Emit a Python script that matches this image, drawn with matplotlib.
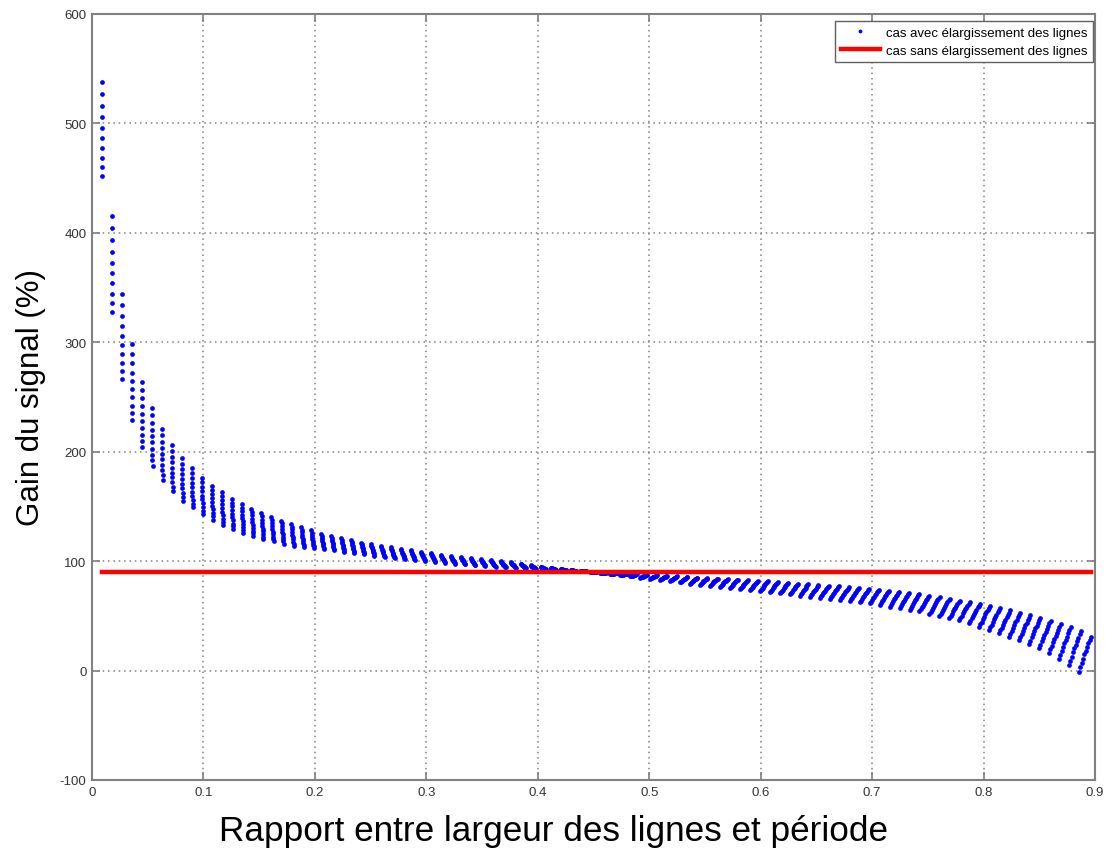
import numpy as np
import matplotlib
matplotlib.use("Agg")
import matplotlib.pyplot as plt

plt.rcParams['font.family'] = ['Liberation Sans', 'DejaVu Sans']
plt.rcParams['axes.unicode_minus'] = False

# one column of points per ratio value (step 0.009)
col_ratio = np.round(np.arange(1, 100) * 0.009, 3)

# gain for the left-most and right-most point of each column
gain_left_end = [
    538, 415, 344, 298, 264, 240, 221, 206, 194, 185,
    176, 169, 163, 157, 152, 148, 144, 140, 137, 134,
    131, 128, 125, 123, 121, 119, 117, 115.5, 114, 112.5,
    111, 110, 108.5, 107.5, 106, 105, 104, 103, 102, 101,
    100, 99, 97.5, 96, 95, 94, 93, 92, 91.2, 90.4,
    89.2, 88, 87, 86, 85, 84, 83, 82, 80.5, 79.5,
    78.5, 77.5, 76.5, 75.5, 74.5, 73.5, 72.5, 71.5, 70.5, 69.5,
    68.5, 67.5, 66.5, 65.5, 64.5, 63.5, 62.5, 61.5, 60, 58.5,
    57, 55.5, 54, 52, 50, 48, 46, 43.5, 40, 37,
    34, 31, 28, 24.5, 20.5, 16, 11, 5, -1,
]
gain_right_end = [
    452, 328, 266, 229, 204, 187, 174, 164, 155, 149,
    143, 138, 133, 129, 126, 123, 120, 118, 116, 114,
    113, 112, 111, 110, 108.5, 107.5, 106.5, 105, 104, 103,
    102, 101, 100, 99, 98.5, 97.5, 97, 96, 95.5, 95,
    94.5, 94, 93.5, 93, 92.5, 92, 91.5, 91, 90.6, 90,
    89.6, 89, 88.5, 88, 87.5, 87, 86.5, 86, 85.5, 85,
    84.5, 84, 83.5, 83, 82.5, 82, 81.5, 81, 80, 79.5,
    79, 78, 77.5, 77, 76, 75.5, 74.5, 74, 73, 72,
    71, 70, 68.5, 67, 65.5, 64, 62.5, 61, 59, 57,
    55, 53, 50.5, 48, 45.5, 42.5, 39.5, 36, 31,
]

# position of the 10 points inside a column (fraction of the gain span)
step_frac = [0, 0.125, 0.252, 0.373, 0.49, 0.596, 0.70, 0.81, 0.906, 1.0]
# relative shift of the ratio for the 10 points
ratio_shift = [-0.006, -0.0047, -0.0033, -0.002, -0.0007, 0.0007, 0.002, 0.0033, 0.0047, 0.006]

gain_ref = 90

x_pts, y_pts = [], []
for r, g0, g1 in zip(col_ratio, gain_left_end, gain_right_end):
    for f, s in zip(step_frac, ratio_shift):
        x_pts.append(r * (1 + s))
        y_pts.append(g0 + (g1 - g0) * f)
x_pts = np.array(x_pts)
y_pts = np.array(y_pts)

fig = plt.figure(figsize=(11.12, 8.54), dpi=100)
ax = fig.add_axes([0.0827, 0.0855, 0.9020, 0.8970])

ax.plot(x_pts, y_pts, 'o', color='#0000ff', ms=3.4, mew=0,
        label='cas avec élargissement des lignes')
ax.plot([x_pts.min(), x_pts.max()], [gain_ref, gain_ref], '-', color='#ff0000', lw=3.2,
        label='cas sans élargissement des lignes')

ax.set_xlim(0, 0.9)
ax.set_ylim(-100, 600)
ax.set_xticks(np.arange(0, 0.91, 0.1))
ax.set_xticklabels(['0', '0.1', '0.2', '0.3', '0.4', '0.5', '0.6', '0.7', '0.8', '0.9'])
ax.set_yticks(np.arange(-100, 601, 100))

ax.grid(True, linestyle=(0, (1, 2.5)), color='#808080', lw=1.1)
ax.tick_params(direction='in', length=6, width=1.2, color='#808080',
               labelsize=9.5, labelcolor='#333333', top=True, right=True, pad=4)
for sp in ax.spines.values():
    sp.set_color('#808080')
    sp.set_linewidth(1.5)

ax.set_xlabel('Rapport entre largeur des lignes et période', fontsize=25.3)
ax.xaxis.set_label_coords(0.46, -0.044)
ax.set_ylabel('Gain du signal (%)', fontsize=22.5, labelpad=10)

leg = ax.legend(loc='upper right', bbox_to_anchor=(0.998, 0.991), borderaxespad=0,
                fontsize=9.5, fancybox=False, framealpha=1, edgecolor='#606060',
                handlelength=2.9, handletextpad=0.45, markerscale=0.8,
                borderpad=0.45, labelspacing=0.4)
leg.get_frame().set_linewidth(1.0)

fig.savefig('out.png', dpi=100)
